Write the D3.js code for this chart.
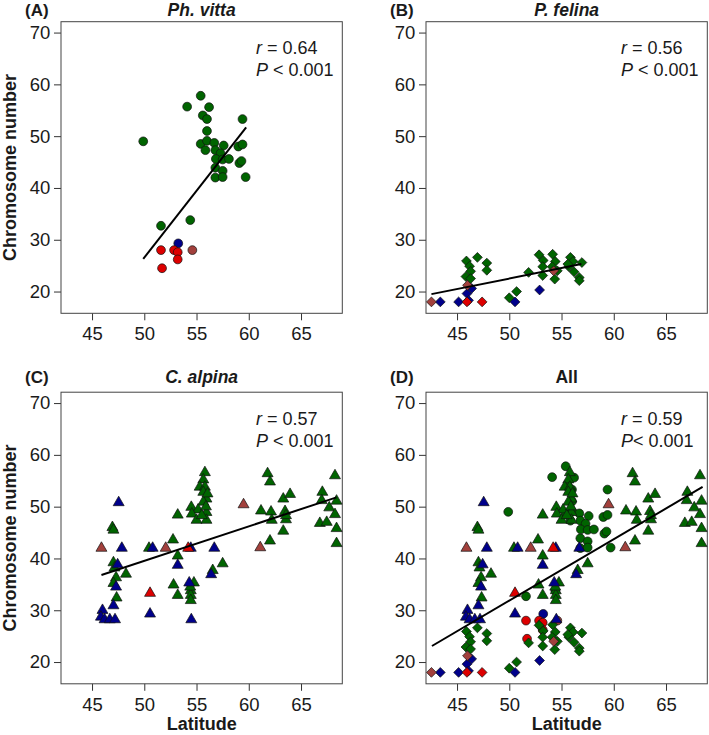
<!DOCTYPE html>
<html>
<head>
<meta charset="utf-8">
<script src="https://cdn.jsdelivr.net/npm/d3@7"></script>
<style>
  body { margin: 0; background: #fff; }
  svg { display: block; font-family: "Liberation Sans", Arial, sans-serif; }
</style>
</head>
<body>
<svg id="chart" width="709" height="735"></svg>
<script>
// ---------------- DATA ----------------
// Ph. vitta (circles): [latitude, chromosome number]
const vittaGreen = [[55.4,57.8],[54.1,55.7],[56.2,55.6],[55.6,54.0],[56.0,53.3],[59.4,53.3],[56.0,51.0],[49.9,49.0],
  [55.4,48.5],[56.0,49.1],[56.7,48.7],[55.85,47.3],[57.6,48.2],[56.8,47.3],[57.3,46.7],[59.0,48.0],[59.4,48.4],
  [56.85,45.6],[57.5,45.5],[58.1,45.6],[59.1,44.8],[59.3,45.2],[56.8,43.9],[57.5,43.3],[56.8,42.0],[57.5,42.1],
  [59.7,42.1],[51.6,32.7],[54.4,33.8]];
const vittaBlue = [[53.25,29.3]];
const vittaBrown = [[54.6,28.0]];
const vittaRed = [[51.6,28.0],[52.85,28.0],[53.2,27.6],[53.2,26.2],[51.7,24.5]];

// P. felina (diamonds)
const felinaGreen = [[45.9,25.9],[46.95,26.6],[47.85,25.5],[46.2,24.9],[47.85,24.1],[46.3,23.9],[45.85,22.9],[46.3,22.5],
  [50.0,18.8],[50.7,20.0],[51.85,23.7],[52.85,27.1],[53.25,26.0],[53.2,24.8],[53.2,23.1],[54.15,27.2],[54.4,25.8],
  [54.1,24.8],[54.35,22.4],[54.6,24.0],[55.85,26.6],[56.1,25.8],[55.7,24.8],[56.95,25.6],[56.2,23.8],[56.7,22.7],
  [56.7,22.1],[55.6,25.3]];
const felinaBlue = [[43.4,18.0],[45.15,18.0],[45.95,19.6],[46.4,20.6],[46.1,18.3],[50.55,18.0],[52.9,20.3]];
const felinaBrown = [[42.55,18.0],[46.0,21.2],[54.25,24.0]];
const felinaRed = [[45.95,18.0],[47.4,18.0]];

// C. alpina (triangles)
const alpinaGreen = [[46.95,46.0],[47.05,45.5],[47.05,39.2],[47.15,38.2],[48.25,37.0],[47.3,36.3],[47.05,35.2],[47.35,32.4],
  [50.45,42.0],[52.75,43.6],[53.2,48.4],[53.2,40.5],[52.8,34.9],[53.2,32.9],
  [54.75,35.3],[54.45,33.8],[54.45,32.9],[54.45,31.9],[54.4,34.5],
  [55.8,56.6],[55.65,55.2],[55.3,53.8],[55.8,53.8],[55.65,52.8],[55.95,51.5],[55.65,50.9],[54.5,49.9],[55.15,49.4],
  [55.95,48.9],[54.55,48.6],[55.0,47.4],[55.95,47.4],[55.5,48.3],[55.9,50.0],[56.05,52.5],
  [56.55,37.7],[57.5,39.0],
  [61.8,56.4],[62.03,54.8],[61.17,49.2],[62.13,49.0],[62.2,47.4],[62.03,43.4],
  [63.3,51.5],[63.95,52.4],[63.47,49.1],[63.56,47.5],[63.56,48.3],[63.3,45.3],
  [68.25,56.0],[67.04,52.8],[66.98,51.2],[67.7,49.8],[68.25,48.5],[68.4,51.1],[66.8,46.8],[67.46,47.0],[68.4,45.8],[68.4,42.9]];
const alpinaBlue = [[47.55,50.8],[47.85,42.0],[50.8,42.0],[54.45,42.0],[56.7,42.0],[53.2,38.7],[47.45,38.8],[47.3,34.5],
  [47.05,30.9],[46.0,30.0],[45.85,28.7],[46.2,28.2],[46.7,28.2],[47.2,28.2],[50.55,29.3],[54.3,35.3],[54.5,28.2],[56.4,36.9]];
const alpinaBrown = [[45.9,42.0],[52.05,42.0],[59.5,50.4],[61.1,42.1]];
const alpinaRed = [[54.2,42.0],[50.55,33.3]];

// Regression lines: [lat1, chrom1, lat2, chrom2]
const fitVitta  = [49.9, 26.3, 59.75, 51.7];
const fitFelina = [42.55, 19.5, 56.9, 25.3];
const fitAlpina = [45.9, 36.8, 68.4, 51.8];
const fitAll    = [42.6, 23.1, 68.5, 53.8];

const panelLetters = ["(A)", "(B)", "(C)", "(D)"];
const panelTitles = ["Ph. vitta", "P. felina", "C. alpina", "All"];
const statR = ["0.64", "0.56", "0.57", "0.59"];
const statP = ["0.001", "0.001", "0.001", "0.001"];
const xTicks = [45, 50, 55, 60, 65];
const yTicks = [20, 30, 40, 50, 60, 70];
const xDomain = [42.03, 68.95];
const yDomain = [15.8, 72.1];

// ---------------- DRAW ----------------
const colors = { green: "#006400", blue: "#00008B", brown: "#A2403C", red: "#DD0000" };
const svg = d3.select("#chart");
const FONT = 18;
const W = 281.3, H = 291.6;

function group(arr, col, shape) { return arr.map(d => ({lat: d[0], chrom: d[1], col, shape})); }
const vitta = [].concat(group(vittaGreen,"green","circle"), group(vittaBlue,"blue","circle"),
  group(vittaBrown,"brown","circle"), group(vittaRed,"red","circle"));
const felina = [].concat(group(felinaGreen,"green","diamond"), group(felinaBlue,"blue","diamond"),
  group(felinaBrown,"brown","diamond"), group(felinaRed,"red","diamond"));
const alpina = [].concat(group(alpinaGreen,"green","triangle"), group(alpinaBlue,"blue","triangle"),
  group(alpinaBrown,"brown","triangle"), group(alpinaRed,"red","triangle"));

const panels = [
  {x0: 61,  y0: 21.7,  data: vitta,  fit: fitVitta,  ylab: true,  xlab: false, titleY: 15.6, letterY: 16.2},
  {x0: 426, y0: 21.7,  data: felina, fit: fitFelina, ylab: false, xlab: false, titleY: 15.6, letterY: 16.2},
  {x0: 61,  y0: 392.2, data: alpina, fit: fitAlpina, ylab: true,  xlab: true,  titleY: 382.6, letterY: 382.6},
  {x0: 426, y0: 392.2, data: [].concat(vitta, felina, alpina), fit: fitAll, ylab: false, xlab: true, titleY: 382.6, letterY: 382.6}
];

const triPath = d3.symbol().type(d3.symbolTriangle).size(52)();
const r = 4.9;
const diaPath = `M0,${-r}L${r},0L0,${r}L${-r},0Z`;
const circPath = d3.symbol().type(d3.symbolCircle).size(Math.PI * 4.4 * 4.4)();

panels.forEach((p, i) => {
  const x = d3.scaleLinear().domain(xDomain).range([p.x0, p.x0 + W]);
  const y = d3.scaleLinear().domain(yDomain).range([p.y0 + H, p.y0]);
  const g = svg.append("g");

  // axes
  const xa = g.append("g").attr("transform", `translate(0,${p.y0 + H})`)
    .call(d3.axisBottom(x).tickValues(xTicks).tickSize(7).tickPadding(6.6).tickFormat(d3.format("d")));
  const ya = g.append("g").attr("transform", `translate(${p.x0},0)`)
    .call(d3.axisLeft(y).tickValues(yTicks).tickSize(7).tickPadding(3.8).tickFormat(d3.format("d")));
  [xa, ya].forEach(a => {
    a.select(".domain").remove();
    a.selectAll("line").attr("stroke", "#333").attr("stroke-width", 1);
    a.selectAll("text").attr("font-size", 18.5).attr("fill", "#1a1a1a")
      .attr("font-family", '"Liberation Sans", Arial, sans-serif');
  });

  // box
  g.append("rect").attr("x", p.x0).attr("y", p.y0).attr("width", W).attr("height", H)
    .attr("fill", "none").attr("stroke", "#444").attr("stroke-width", 1);

  // points
  g.append("g").selectAll("path").data(p.data).join("path")
    .attr("transform", d => `translate(${x(d.lat)},${y(d.chrom)})`)
    .attr("d", d => d.shape === "circle" ? circPath : d.shape === "diamond" ? diaPath : triPath)
    .attr("fill", d => colors[d.col])
    .attr("stroke", "#111").attr("stroke-width", 0.7);

  // regression line
  g.append("line")
    .attr("x1", x(p.fit[0])).attr("y1", y(p.fit[1]))
    .attr("x2", x(p.fit[2])).attr("y2", y(p.fit[3]))
    .attr("stroke", "#000").attr("stroke-width", 2);

  // labels
  g.append("text").attr("x", p.x0 - 36).attr("y", p.letterY)
    .attr("font-size", 17).attr("font-weight", "bold").attr("fill", "#1a1a1a").text(panelLetters[i]);
  g.append("text").attr("x", p.x0 + W / 2).attr("y", p.titleY).attr("text-anchor", "middle")
    .attr("font-size", 17.5).attr("font-weight", "bold")
    .attr("font-style", i < 3 ? "italic" : "normal").attr("fill", "#1a1a1a").text(panelTitles[i]);

  const t1 = g.append("text").attr("x", p.x0 + 195).attr("y", p.y0 + 32.6)
    .attr("font-size", FONT).attr("fill", "#1a1a1a");
  t1.append("tspan").attr("font-style", "italic").text("r");
  t1.append("tspan").text(" = " + statR[i]);
  const t2 = g.append("text").attr("x", p.x0 + 195).attr("y", p.y0 + 54.3)
    .attr("font-size", FONT).attr("fill", "#1a1a1a");
  t2.append("tspan").attr("font-style", "italic").text("P");
  t2.append("tspan").text((i === 3 ? "< " : " < ") + statP[i]);

  if (p.ylab) {
    g.append("text").attr("transform", `translate(16,${p.y0 + H / 2}) rotate(-90)`)
      .attr("text-anchor", "middle").attr("font-size", 18).attr("font-weight", "bold")
      .attr("fill", "#1a1a1a").text("Chromosome number");
  }
  if (p.xlab) {
    g.append("text").attr("x", p.x0 + W / 2).attr("y", p.y0 + H + 46.5)
      .attr("text-anchor", "middle").attr("font-size", 18).attr("font-weight", "bold")
      .attr("fill", "#1a1a1a").text("Latitude");
  }
});
</script>
</body>
</html>
